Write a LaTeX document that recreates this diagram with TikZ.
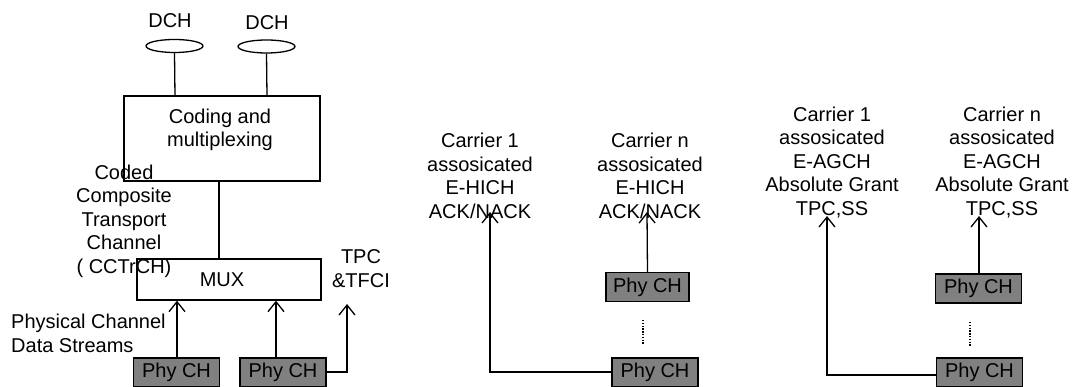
\documentclass[tikz,border=0pt]{standalone}
\usepackage{fontspec}
\setmainfont{Liberation Sans}
\usepackage{tikz}
\usetikzlibrary{arrows.meta,shapes.geometric}

\begin{document}
\begin{tikzpicture}[x=1pt,y=-1pt,>={Straight Barb[length=10pt,width=16pt]}]
\tikzset{
    txt/.style={%
        font=\fontsize{20}{23.5}\selectfont,
        align=center, inner sep=0pt
        },
    blk/.style={%
        draw=black, line width=1.3pt,
        rectangle, inner sep=0pt
        },
    phy/.style={%
        draw=black, line width=1.3pt,
        fill=gray, rectangle, inner sep=0pt,
        minimum width=86pt, minimum height=29pt,
        font=\fontsize{20}{23.5}\selectfont
        },
    trch/.style={%
        draw=black, line width=1.3pt,
        ellipse, inner sep=0pt,
        minimum width=57pt, minimum height=13pt
        },
    con/.style={line width=1.3pt},
    dots/.style={line width=1.3pt, dash pattern=on 1.4pt off 1.4pt},
}
\useasboundingbox (0,0) rectangle (1072,387);
\clip (0,0) rectangle (1072,387);
%%%TRANSPORT CHANNELS
\node[txt] (dchtxt1) at (170,21) {DCH};
\node[txt] (dchtxt2) at (267,23) {DCH};
\node[trch] (dch1) at (174.5,46) {};
\node[trch] (dch2) at (266.5,46.5) {};
%%%CODING AND MUX
\node[blk, minimum width=196pt, minimum height=85pt] (cod) at (222,138.5) {};
\node[txt] (codtxt) at (220,130) {Coding and\\multiplexing};
\node[blk, minimum width=184pt, minimum height=41pt] (mux) at (229,279.5) {};
\node[txt] (muxtxt) at (222,280) {MUX};
\node[txt] (cctrch) at (124,221) {Coded\\Composite\\Transport\\Channel\\( CCTrCH)};
\node[txt] (tfci) at (361,268.5) {TPC\\\&TFCI};
\node[txt, align=left, anchor=west] (pcds) at (11,333.5) {Physical Channel\\Data Streams};
\coordinate (cod1) at (175,96);
\coordinate (cod2) at (267,96);
\draw[con] (dch1.south) -- (cod1);
\draw[con] (dch2.south) -- (cod2);
\draw[con] (cod.south -| 219,0) -- (mux.north -| 219,0);
%%%PHYSICAL CHANNELS (LEFT)
\node[phy] (ph1) at (176.5,372.5) {Phy CH};
\node[phy] (ph2) at (283,372.5) {Phy CH};
\coordinate (tfcitip) at (347,304);
\draw[con,->] (ph1.north -| 177,0) -- (mux.south -| 177,0);
\draw[con,->] (ph2.north -| 276,0) -- (mux.south -| 276,0);
\draw[con,->] (ph2.east |- 0,372) -| (tfcitip);
%%%E-HICH
\node[txt] (hich1) at (480,176) {Carrier 1\\assosicated\\E-HICH\\ACK/NACK};
\node[txt] (hichn) at (650,176) {Carrier n\\assosicated\\E-HICH\\ACK/NACK};
\node[phy, minimum width=83pt] (hup) at (647.5,287) {Phy CH};
\node[phy] (hlo) at (655,372.5) {Phy CH};
\coordinate (htip1) at (490,212);
\coordinate (htipn) at (647,212);
\draw[con,->] (hlo.west |- 0,372) -| (htip1);
\draw[con,->] (hup.north) -- (htipn);
\draw[dots] (643,320) -- (643,345);
%%%E-AGCH
\node[txt] (agch1) at (832,162.5) {Carrier 1\\assosicated\\E-AGCH\\Absolute Grant\\TPC,SS};
\node[txt] (agchn) at (1002,162.5) {Carrier n\\assosicated\\E-AGCH\\Absolute Grant\\TPC,SS};
\node[phy] (aup) at (978.5,288.5) {Phy CH};
\node[phy] (alo) at (979.5,372.5) {Phy CH};
\coordinate (atip1) at (827,216);
\coordinate (atipn) at (979,216);
\draw[con,->] (alo.west |- 0,375) -| (atip1);
\draw[con,->] (aup.north -| 979,0) -- (atipn);
\draw[dots] (970,322) -- (970,347);
\end{tikzpicture}
\end{document}
